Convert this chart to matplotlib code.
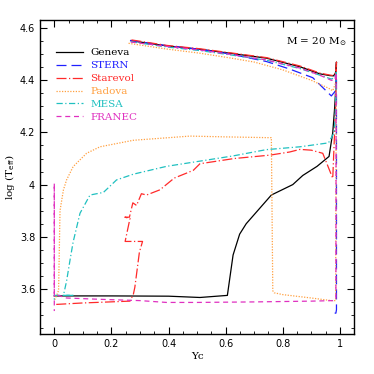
import matplotlib
matplotlib.use('Agg')
import matplotlib.pyplot as plt
from matplotlib.ticker import MultipleLocator

# Geneva (black, solid)
geneva_yc = [0.268, 0.393, 0.51, 0.62, 0.743, 0.86, 0.929, 0.965, 0.978, 0.985, 0.988,
             0.987, 0.982, 0.975, 0.962, 0.92, 0.87, 0.835, 0.76, 0.672, 0.649, 0.626,
             0.606, 0.51, 0.40, 0.2, 0.0]
geneva_te = [4.552, 4.532, 4.519, 4.503, 4.485, 4.452, 4.425, 4.418, 4.417, 4.43, 4.47,
             4.40, 4.30, 4.20, 4.108, 4.07, 4.035, 4.0, 3.96, 3.85, 3.81, 3.73,
             3.575, 3.567, 3.572, 3.573, 3.573]

# STERN (blue, long dash)
stern_yc = [0.265, 0.393, 0.51, 0.62, 0.743, 0.822, 0.905, 0.97, 0.985, 0.988, 0.988, 0.986, 0.98]
stern_te = [4.553, 4.533, 4.519, 4.500, 4.472, 4.444, 4.41, 4.34, 4.36, 4.42, 3.52, 3.507, 3.507]

# Starevol (red, dash-dot)
starevol_yc = [0.27, 0.393, 0.51, 0.62, 0.743, 0.86, 0.929, 0.965, 0.978, 0.985, 0.988,
               0.985, 0.975, 0.94, 0.90, 0.86, 0.824, 0.755, 0.63, 0.51, 0.487, 0.463,
               0.42, 0.37, 0.323, 0.305, 0.288, 0.275, 0.263, 0.247, 0.265, 0.248, 0.309,
               0.298, 0.282, 0.277, 0.265, 0.1, 0.0]
starevol_te = [4.555, 4.534, 4.521, 4.505, 4.487, 4.455, 4.428, 4.42, 4.418, 4.43, 4.47,
               4.30, 4.024, 4.12, 4.132, 4.135, 4.125, 4.113, 4.10, 4.08, 4.055, 4.044,
               4.025, 3.98, 3.96, 3.965, 3.92, 3.93, 3.875, 3.875, 3.87, 3.782, 3.782,
               3.741, 3.606, 3.58, 3.553, 3.546, 3.54]

# Padova (orange, dotted)
padova_yc = [0.26, 0.393, 0.51, 0.62, 0.7, 0.8, 0.9, 0.96, 0.975, 0.985, 0.987, 0.985,
             0.97, 0.9, 0.8, 0.77, 0.765, 0.76, 0.75, 0.6, 0.475, 0.277, 0.16, 0.113,
             0.066, 0.043, 0.032, 0.02, 0.015, 0.01, 0.0]
padova_te = [4.542, 4.52, 4.504, 4.485, 4.47, 4.44, 4.40, 4.37, 4.36, 4.39, 4.30, 3.555,
             3.555, 3.565, 3.578, 3.585, 3.593, 4.18, 4.18, 4.183, 4.186, 4.17, 4.145, 4.12,
             4.069, 4.018, 3.98, 3.90, 3.594, 3.58, 3.555]

# MESA (cyan, dash-dot)
mesa_yc = [0.268, 0.393, 0.51, 0.62, 0.743, 0.86, 0.929, 0.97, 0.982, 0.987, 0.985, 0.98,
           0.96, 0.86, 0.742, 0.626, 0.51, 0.393, 0.277, 0.218, 0.172, 0.125, 0.09,
           0.066, 0.055, 0.043, 0.032, 0.07, 0.0, 0.0]
mesa_te = [4.548, 4.528, 4.514, 4.497, 4.477, 4.445, 4.42, 4.405, 4.41, 4.43, 4.30, 4.20,
           4.16, 4.145, 4.134, 4.11, 4.09, 4.07, 4.04, 4.018, 3.97, 3.96, 3.89,
           3.78, 3.71, 3.63, 3.575, 3.575, 3.575, 3.55]

# FRANEC (magenta, dashed)
franec_yc = [0.268, 0.393, 0.51, 0.62, 0.743, 0.86, 0.929, 0.97, 0.982, 0.987, 0.986,
             0.976, 0.9, 0.7, 0.5, 0.393, 0.30, 0.16, 0.043, 0.0, 0.0, 0.0]
franec_te = [4.547, 4.53, 4.516, 4.499, 4.478, 4.447, 4.42, 4.40, 4.40, 4.43, 3.56,
             3.555, 3.553, 3.55, 3.548, 3.548, 3.555, 3.56, 3.565, 3.58, 4.005, 3.515]

tracks = [
    ('Geneva', geneva_yc, geneva_te, 'black', '-'),
    ('STERN', stern_yc, stern_te, '#2020ff', (0, (8, 4))),
    ('Starevol', starevol_yc, starevol_te, '#ff2a2a', (0, (8, 2, 1, 2))),
    ('Padova', padova_yc, padova_te, '#ffa040', (0, (1, 1.2))),
    ('MESA', mesa_yc, mesa_te, '#20c0c0', (0, (5, 2, 1, 2))),
    ('FRANEC', franec_yc, franec_te, '#e030c0', (0, (4, 3))),
]

fig = plt.figure(figsize=(3.74, 3.74), dpi=100)
ax = fig.add_axes([0.107, 0.107, 0.84, 0.84])

for name, yc, te, col, ls in tracks:
    ax.plot(yc, te, color=col, ls=ls, lw=0.9, label=name)

ax.set_xlim(-0.05, 1.05)
ax.set_ylim(3.427, 4.632)
ax.xaxis.set_minor_locator(MultipleLocator(0.05))
ax.yaxis.set_minor_locator(MultipleLocator(0.05))
ax.set_xticks([0, 0.2, 0.4, 0.6, 0.8, 1])
ax.set_xticklabels(['0', '0.2', '0.4', '0.6', '0.8', '1'])
ax.set_yticks([3.6, 3.8, 4.0, 4.2, 4.4, 4.6])
ax.set_yticklabels(['3.6', '3.8', '4', '4.2', '4.4', '4.6'])
ax.tick_params(which='both', direction='in', top=True, right=True, labelsize=7)
ax.tick_params(which='major', length=5, width=0.8)
ax.tick_params(which='minor', length=2.5, width=0.6)
for s in ax.spines.values():
    s.set_linewidth(1.0)

ax.set_xlabel('Yc', fontsize=7.5, family='DejaVu Serif', labelpad=2)
ax.set_ylabel(r'log (T$_{\rm eff}$)', fontsize=7.5, family='DejaVu Serif', labelpad=2)

leg = ax.legend(loc='upper left', bbox_to_anchor=(0.02, 0.94), frameon=False,
                handlelength=2.6, handletextpad=0.7, labelspacing=0.35,
                prop={'family': 'DejaVu Serif', 'size': 7.5})
for text, (name, yc, te, col, ls) in zip(leg.get_texts(), tracks):
    text.set_color(col)

ax.text(0.975, 0.93, r'M = 20 M$_{\odot}$', transform=ax.transAxes, ha='right', va='center',
        fontsize=7.5, family='DejaVu Serif')

fig.savefig('out.png', dpi=100)
